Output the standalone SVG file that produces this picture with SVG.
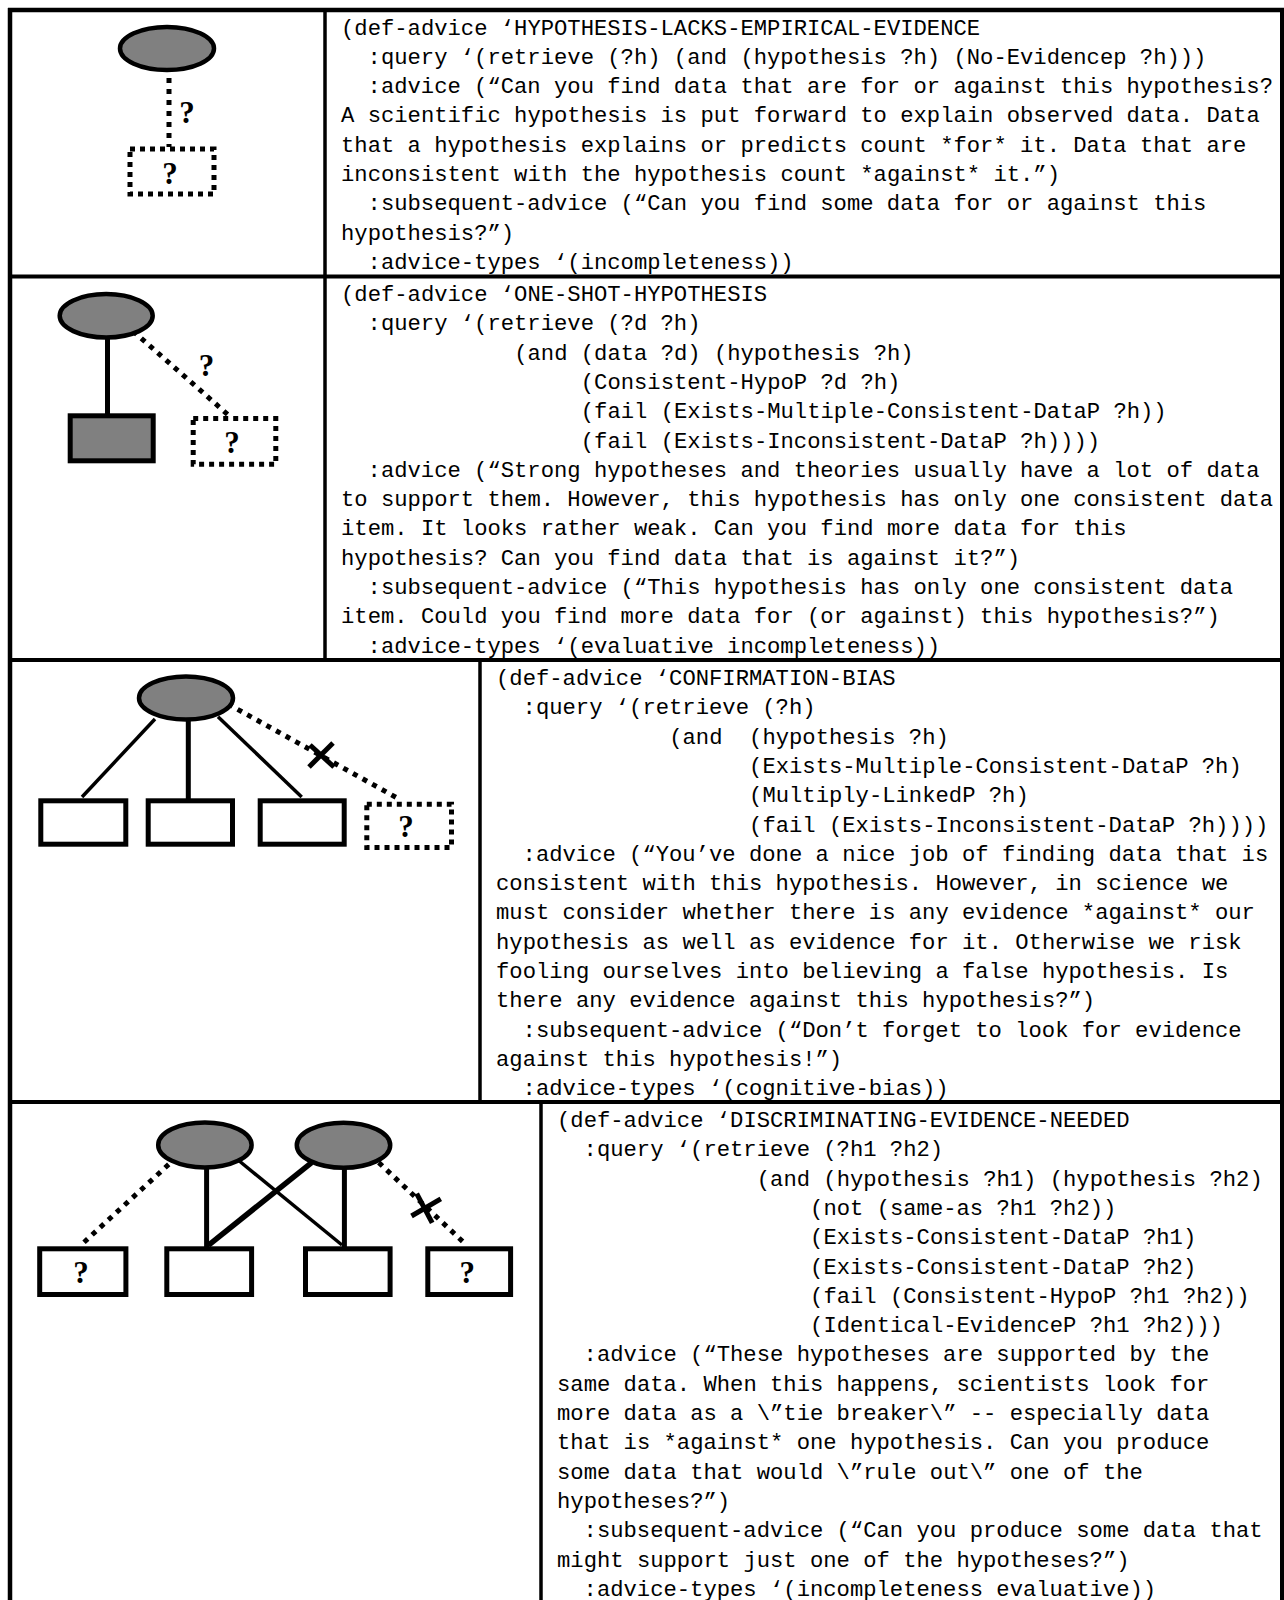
<svg xmlns="http://www.w3.org/2000/svg" width="1284" height="1600" viewBox="0 0 1284 1600">
<style>
.code{font-family:"Liberation Mono","Courier New",monospace;font-size:22.2px;fill:#000}
.q{font-family:"Liberation Serif","Times New Roman",serif;font-weight:bold;font-size:31px;text-anchor:middle;fill:#000}
.hyp{fill:#808080;stroke:#000;stroke-width:4.5}
.data{fill:#fff;stroke:#000;stroke-width:5}
.datag{fill:#808080;stroke:#000;stroke-width:5}
.unk{fill:#fff;stroke:#000;stroke-width:5;stroke-dasharray:5 5}
.link{stroke:#000;stroke-width:5;fill:none}
.thin{stroke:#000;stroke-width:3.5;fill:none}
.dot{stroke:#000;stroke-width:5;stroke-dasharray:5 6;fill:none}
.xm{stroke:#000;stroke-width:5;fill:none}
.grid{stroke:#000;stroke-width:4;fill:none}
.col{stroke:#000;stroke-width:3.5;fill:none}
</style>
<rect width="1284" height="1600" fill="#fff"/>
<g id="table">
<line class="grid" x1="8" y1="10" x2="1284" y2="10" style="stroke-width:4.5"/>
<line class="grid" x1="10" y1="8" x2="10" y2="1600" style="stroke-width:4.5"/>
<line class="grid" x1="1282" y1="8" x2="1282" y2="1600"/>
<line class="grid" x1="10" y1="276.5" x2="1284" y2="276.5"/>
<line class="grid" x1="10" y1="660" x2="1284" y2="660"/>
<line class="grid" x1="10" y1="1102" x2="1284" y2="1102"/>
<line class="col" x1="325" y1="10" x2="325" y2="660"/>
<line class="col" x1="480" y1="660" x2="480" y2="1102"/>
<line class="col" x1="541" y1="1102" x2="541" y2="1600"/>
</g>
<g id="connectors">
<line class="dot" x1="169" y1="78" x2="169" y2="147"/>
<line class="link" x1="107.5" y1="338" x2="107.5" y2="414"/>
<line class="dot" x1="133" y1="331" x2="230" y2="416.5"/>
<line class="thin" x1="155" y1="719" x2="82" y2="797"/>
<line class="link" x1="188.3" y1="719" x2="188.3" y2="799"/>
<line class="thin" x1="218" y1="716.7" x2="301.7" y2="797"/>
<line class="dot" x1="228" y1="704" x2="399" y2="799"/>
<line class="xm" x1="309" y1="767" x2="333" y2="743"/>
<line class="xm" x1="310" y1="745" x2="334" y2="767"/>
<line class="link" x1="206.6" y1="1166" x2="206.6" y2="1247"/>
<line class="link" x1="344.4" y1="1166" x2="344.4" y2="1247"/>
<line class="thin" x1="239.3" y1="1161" x2="342" y2="1245"/>
<line class="link" x1="311.6" y1="1162.6" x2="208.3" y2="1245.3" style="stroke-width:5.5"/>
<line class="dot" x1="168.7" y1="1164.4" x2="81" y2="1245"/>
<line class="dot" x1="378.8" y1="1162.6" x2="463.2" y2="1242"/>
<line class="xm" x1="411.5" y1="1216" x2="440.8" y2="1198.8"/>
<line class="xm" x1="416.7" y1="1193.6" x2="432.2" y2="1222.9"/>
<text class="q" x="187" y="122.7">?</text>
<text class="q" x="206.5" y="376">?</text>
</g>
<g id="r1-hypothesis"><ellipse class="hyp" cx="167" cy="48.5" rx="47" ry="21.5"/></g>
<g id="r1-unknown"><rect class="unk" x="130" y="149" width="84" height="45"/><text class="q" x="170" y="184">?</text></g>
<g id="r2-hypothesis"><ellipse class="hyp" cx="106.2" cy="315.8" rx="46.5" ry="21.7"/></g>
<g id="r2-data"><rect class="datag" x="70.2" y="415.8" width="83" height="45"/></g>
<g id="r2-unknown"><rect class="unk" x="193.2" y="418.5" width="82.6" height="45.7"/><text class="q" x="232" y="452.7">?</text></g>
<g id="r3-hypothesis"><ellipse class="hyp" cx="186" cy="698" rx="47" ry="21.5"/></g>
<g id="r3-data1"><rect class="data" x="40.8" y="800.8" width="85" height="43.4"/></g>
<g id="r3-data2"><rect class="data" x="148.2" y="800.8" width="84.3" height="43.4"/></g>
<g id="r3-data3"><rect class="data" x="260.2" y="800.8" width="84" height="43.4"/></g>
<g id="r3-unknown"><rect class="unk" x="366.8" y="804.2" width="84.7" height="43.3"/><text class="q" x="406" y="836.7">?</text></g>
<g id="r4-hypothesis1"><ellipse class="hyp" cx="204.9" cy="1144.9" rx="46.7" ry="22.5"/></g>
<g id="r4-hypothesis2"><ellipse class="hyp" cx="343.5" cy="1145.2" rx="46.7" ry="22.5"/></g>
<g id="r4-data1"><rect class="data" x="39.7" y="1248.8" width="86.2" height="45.7"/><text class="q" x="81" y="1283.2">?</text></g>
<g id="r4-data2"><rect class="data" x="166.8" y="1248.8" width="84.8" height="45.7"/></g>
<g id="r4-data3"><rect class="data" x="305.5" y="1248.8" width="84.6" height="45.7"/></g>
<g id="r4-data4"><rect class="data" x="427.8" y="1248.8" width="82.8" height="45.7"/><text class="q" x="467.3" y="1283.2">?</text></g>
<g id="r1-code" class="code">
<text x="341" y="34.5">(def-advice ‘HYPOTHESIS-LACKS-EMPIRICAL-EVIDENCE</text>
<text x="367.6" y="63.8">:query ‘(retrieve (?h) (and (hypothesis ?h) (No-Evidencep ?h)))</text>
<text x="367.6" y="93.1">:advice (“Can you find data that are for or against this hypothesis?</text>
<text x="341" y="122.4">A scientific hypothesis is put forward to explain observed data. Data</text>
<text x="341" y="151.7">that a hypothesis explains or predicts count *for* it. Data that are</text>
<text x="341" y="181">inconsistent with the hypothesis count *against* it.”)</text>
<text x="367.6" y="210.3">:subsequent-advice (“Can you find some data for or against this</text>
<text x="341" y="239.6">hypothesis?”)</text>
<text x="367.6" y="268.9">:advice-types ‘(incompleteness))</text>
</g>
<g id="r2-code" class="code">
<text x="341" y="301">(def-advice ‘ONE-SHOT-HYPOTHESIS</text>
<text x="367.6" y="330.3">:query ‘(retrieve (?d ?h)</text>
<text x="514.2" y="359.6">(and (data ?d) (hypothesis ?h)</text>
<text x="580.8" y="388.9">(Consistent-HypoP ?d ?h)</text>
<text x="580.8" y="418.2">(fail (Exists-Multiple-Consistent-DataP ?h))</text>
<text x="580.8" y="447.5">(fail (Exists-Inconsistent-DataP ?h))))</text>
<text x="367.6" y="476.8">:advice (“Strong hypotheses and theories usually have a lot of data</text>
<text x="341" y="506.1">to support them. However, this hypothesis has only one consistent data</text>
<text x="341" y="535.4">item. It looks rather weak. Can you find more data for this</text>
<text x="341" y="564.7">hypothesis? Can you find data that is against it?”)</text>
<text x="367.6" y="594">:subsequent-advice (“This hypothesis has only one consistent data</text>
<text x="341" y="623.3">item. Could you find more data for (or against) this hypothesis?”)</text>
<text x="367.6" y="652.6">:advice-types ‘(evaluative incompleteness))</text>
</g>
<g id="r3-code" class="code">
<text x="496" y="685">(def-advice ‘CONFIRMATION-BIAS</text>
<text x="522.6" y="714.3">:query ‘(retrieve (?h)</text>
<text y="743.6"><tspan x="669.2">(and</tspan><tspan x="749.1">(hypothesis ?h)</tspan></text>
<text x="749.1" y="772.9">(Exists-Multiple-Consistent-DataP ?h)</text>
<text x="749.1" y="802.2">(Multiply-LinkedP ?h)</text>
<text x="749.1" y="831.5">(fail (Exists-Inconsistent-DataP ?h))))</text>
<text x="522.6" y="860.8">:advice (“You’ve done a nice job of finding data that is</text>
<text x="496" y="890.1">consistent with this hypothesis. However, in science we</text>
<text x="496" y="919.4">must consider whether there is any evidence *against* our</text>
<text x="496" y="948.7">hypothesis as well as evidence for it. Otherwise we risk</text>
<text x="496" y="978">fooling ourselves into believing a false hypothesis. Is</text>
<text x="496" y="1007.3">there any evidence against this hypothesis?”)</text>
<text x="522.6" y="1036.6">:subsequent-advice (“Don’t forget to look for evidence</text>
<text x="496" y="1065.9">against this hypothesis!”)</text>
<text x="522.6" y="1095.2">:advice-types ‘(cognitive-bias))</text>
</g>
<g id="r4-code" class="code">
<text x="557" y="1127">(def-advice ‘DISCRIMINATING-EVIDENCE-NEEDED</text>
<text x="583.6" y="1156.3">:query ‘(retrieve (?h1 ?h2)</text>
<text x="756.8" y="1185.6">(and (hypothesis ?h1) (hypothesis ?h2)</text>
<text x="810.1" y="1214.9">(not (same-as ?h1 ?h2))</text>
<text x="810.1" y="1244.2">(Exists-Consistent-DataP ?h1)</text>
<text x="810.1" y="1273.5">(Exists-Consistent-DataP ?h2)</text>
<text x="810.1" y="1302.8">(fail (Consistent-HypoP ?h1 ?h2))</text>
<text x="810.1" y="1332.1">(Identical-EvidenceP ?h1 ?h2)))</text>
<text x="583.6" y="1361.4">:advice (“These hypotheses are supported by the</text>
<text x="557" y="1390.7">same data. When this happens, scientists look for</text>
<text x="557" y="1420">more data as a \”tie breaker\” -- especially data</text>
<text x="557" y="1449.3">that is *against* one hypothesis. Can you produce</text>
<text x="557" y="1478.6">some data that would \”rule out\” one of the</text>
<text x="557" y="1507.9">hypotheses?”)</text>
<text x="583.6" y="1537.2">:subsequent-advice (“Can you produce some data that</text>
<text x="557" y="1566.5">might support just one of the hypotheses?”)</text>
<text x="583.6" y="1595.8">:advice-types ‘(incompleteness evaluative))</text>
</g>
</svg>
